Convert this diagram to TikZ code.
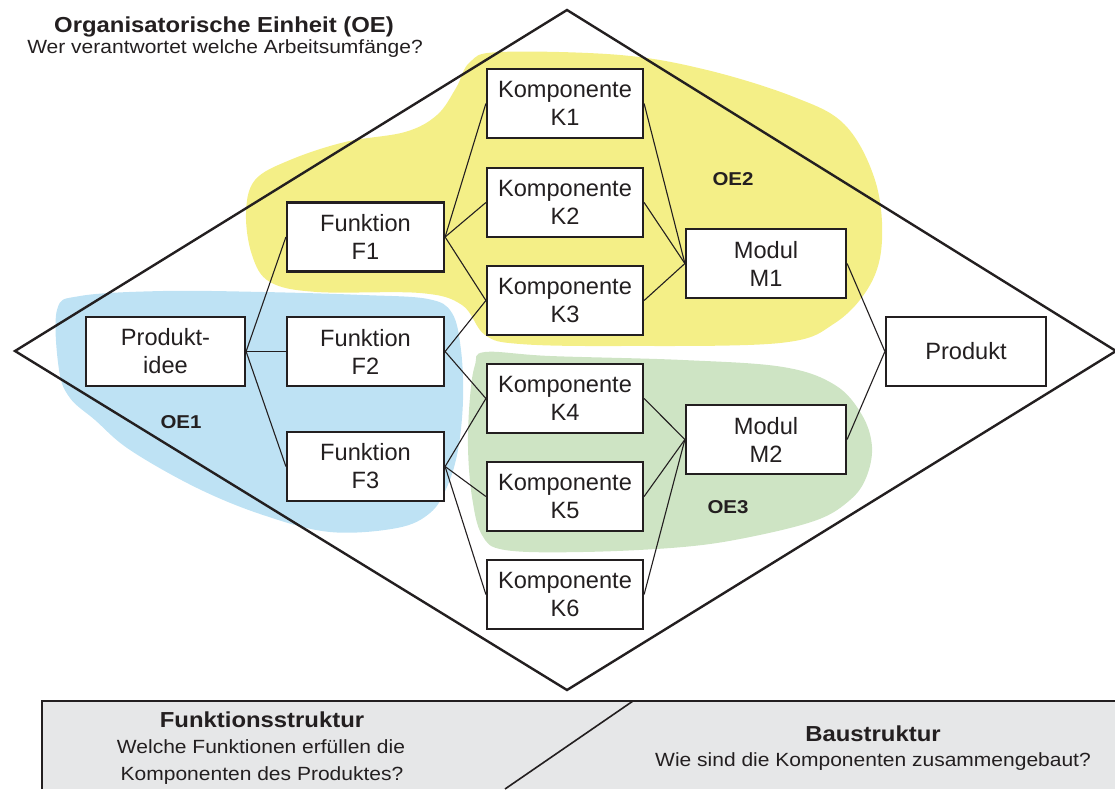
\documentclass[tikz,border=0pt]{standalone}
\usepackage{fontspec}
\setmainfont{Liberation Sans}
\newfontfamily\hdfont[FakeStretch=1.1]{Liberation Sans}
\definecolor{ink}{HTML}{231F20}
\definecolor{oeyellow}{HTML}{F4EF87}
\definecolor{oeblue}{HTML}{BEE2F4}
\definecolor{oegreen}{HTML}{CEE4C4}
\definecolor{barfill}{HTML}{E6E7E8}
\begin{document}
\begin{tikzpicture}[x=1pt,y=-1pt,
  elem/.style={draw=ink, line width=2.2pt, fill=white, inner sep=0pt,
    align=center, text=ink, minimum height=69pt,
    font=\fontsize{23.6}{28}\selectfont},
  fbox/.style={elem, minimum width=157pt},
  kbox/.style={elem, minimum width=156pt},
  mbox/.style={elem, minimum width=160pt},
  link/.style={draw=ink, line width=1.1pt},
  oelabel/.style={text=ink, anchor=base, font=\hdfont\bfseries\fontsize{18.6}{22}\selectfont},
  headbold/.style={text=ink, anchor=base, font=\hdfont\bfseries\fontsize{21.7}{26}\selectfont},
  headtext/.style={text=ink, anchor=base, font=\hdfont\fontsize{19.1}{24}\selectfont},
  frame/.style={draw=ink, line width=2.4pt, line join=miter}
]
\useasboundingbox (0,0) rectangle (1115,789);

% organisational units
\fill[oeyellow] plot[smooth cycle, tension=0.6] coordinates {
  (470,62) (500,52) (620,55) (707,70) (794,97) (845,125) (875,180) (882,240)
  (870,285) (835,323) (780,343) (620,346) (520,344) (485,335) (462,305)
  (420,293) (317,292) (270,282) (252,255) (246,213) (255,180) (290,160)
  (345,142) (405,132) (437,115) (456,88)};
\fill[oeblue] plot[smooth cycle, tension=0.6] coordinates {
  (57,310) (80,296) (163,291) (263,292) (363,295) (428,299) (452,313)
  (461,350) (463,400) (458,450) (447,487) (430,513) (397,528) (330,532)
  (263,515) (197,488) (130,450) (95,420) (70,398) (59,370)};
\fill[oegreen] plot[smooth cycle, tension=0.6] coordinates {
  (485,352) (550,356) (683,360) (783,367) (835,385) (862,415) (872,447)
  (866,478) (850,500) (817,520) (750,537) (683,547) (583,552) (505,550)
  (482,535) (472,497) (468,447) (470,397) (475,365)};

% diamond
\coordinate (dtop) at (567,10);
\coordinate (dleft) at (15,351);
\coordinate (dbottom) at (567,690);
\coordinate (dright) at (1116,351);
\draw[frame] (dtop) -- (dright) -- (dbottom) -- (dleft) -- cycle;

% bottom bar
\coordinate (barTL) at (42,701);
\coordinate (barTR) at (1115,701);
\coordinate (barBL) at (42,789);
\coordinate (diagT) at (633,701);
\coordinate (diagB) at (505,789);
\fill[barfill] (42,701) rectangle (1115,789);
\draw[draw=ink, line width=1.6pt] (diagT) -- (diagB);
\draw[draw=ink, line width=2.6pt] (barBL) -- (barTL) -- (barTR);

% headings
\node[headbold] (oeTitle) at (224,33) {Organisatorische Einheit (OE)};
\node[headtext] (oeSub) at (225,54) {Wer verantwortet welche Arbeitsumfänge?};
\node[headbold] (fsTitle) at (262,727) {Funktionsstruktur};
\node[headtext] (fsSub1) at (261,753.5) {Welche Funktionen erfüllen die};
\node[headtext] (fsSub2) at (262,780) {Komponenten des Produktes?};
\node[headbold] (bsTitle) at (873,741) {Baustruktur};
\node[headtext] (bsSub) at (873,766) {Wie sind die Komponenten zusammengebaut?};

% unit labels
\node[oelabel] (oe1) at (181,428) {OE1};
\node[oelabel] (oe2) at (733,185) {OE2};
\node[oelabel] (oe3) at (728,513) {OE3};

% elements
\node[mbox, minimum width=159pt] (P) at (165.5,351.5) {Produkt-\\idee};
\node[fbox] (F1) at (365.5,237) {Funktion\\F1};
\node[fbox] (F2) at (365.5,351.5) {Funktion\\F2};
\node[fbox] (F3) at (365.5,466.5) {Funktion\\F3};
\node[kbox] (K1) at (565,103.5) {Komponente\\K1};
\node[kbox] (K2) at (565,202.5) {Komponente\\K2};
\node[kbox] (K3) at (565,300.5) {Komponente\\K3};
\node[kbox] (K4) at (565,398.5) {Komponente\\K4};
\node[kbox] (K5) at (565,496.5) {Komponente\\K5};
\node[kbox] (K6) at (565,594.5) {Komponente\\K6};
\node[mbox] (M1) at (766,263.5) {Modul\\M1};
\node[mbox] (M2) at (766,439.5) {Modul\\M2};
\node[mbox] (PR) at (966,351.5) {Produkt};

% connectors
\foreach \f in {F1,F2,F3} \draw[link] (P.east) -- (\f.west);
\foreach \k in {K1,K2,K3} \draw[link] (F1.east) -- (\k.west);
\foreach \k in {K3,K4} \draw[link] (F2.east) -- (\k.west);
\foreach \k in {K4,K5,K6} \draw[link] (F3.east) -- (\k.west);
\foreach \k in {K1,K2,K3} \draw[link] (\k.east) -- (M1.west);
\foreach \k in {K4,K5,K6} \draw[link] (\k.east) -- (M2.west);
\draw[link] (M1.east) -- (PR.west);
\draw[link] (M2.east) -- (PR.west);
\end{tikzpicture}
\end{document}
